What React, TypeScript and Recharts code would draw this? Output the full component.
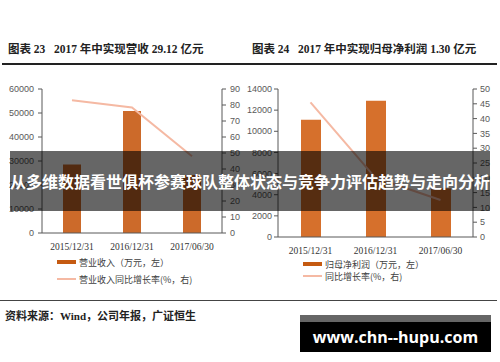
import React from 'react';
import { ComposedChart, Bar, Line, XAxis, YAxis } from 'recharts';

const dates = ['2015/12/31', '2016/12/31', '2017/06/30'];
const revenue = [28500, 50800, 24200];
const revenueGrowth = [83, 78.5, 48];
const profit = [11100, 12900, 4600];
const profitGrowth = [45.5, 20, 12.5];

const revenueTicks = [0, 10000, 20000, 30000, 40000, 50000, 60000];
const revenueGrowthTicks = [0, 10, 20, 30, 40, 50, 60, 70, 80, 90];
const profitTicks = [0, 2000, 4000, 6000, 8000, 10000, 12000, 14000];
const profitGrowthTicks = [0, 5, 10, 15, 20, 25, 30, 35, 40, 45, 50];

const BAR = '#cc6a2a';
const LINE = '#f5b9a3';
const AXIS = '#595959';
const SERIF = '"Liberation Serif", "Noto Sans CJK SC", serif';
const CJK = '"Noto Sans CJK SC", sans-serif';

const tickStyle = { fill: AXIS, fontSize: 9, fontFamily: '"Liberation Sans", sans-serif' };
const xTickStyle = { fill: '#333', fontSize: 9.5, fontFamily: SERIF };

const leftData = dates.map((d, i) => ({ date: d, value: revenue[i], growth: revenueGrowth[i] }));
const rightData = dates.map((d, i) => ({ date: d, value: profit[i], growth: profitGrowth[i] }));

const abs = (style: React.CSSProperties): React.CSSProperties => ({ position: 'absolute', ...style });

const LegendRow = ({ x, y, kind, label }: { x: number; y: number; kind: 'bar' | 'line'; label: string }) => (
  <div style={abs({ left: x, top: y - 7, height: 14, display: 'flex', alignItems: 'center', whiteSpace: 'nowrap' })}>
    <div style={{ width: 19, height: kind === 'bar' ? 4 : 2, background: kind === 'bar' ? '#c55a11' : LINE, marginRight: 3 }} />
    <span style={{ fontSize: 9, color: '#404040', fontFamily: CJK }}>{label}</span>
  </div>
);

export default function App() {
  return (
    <div style={abs({ left: 0, top: 0, width: 500, height: 362, background: '#fff', overflow: 'hidden' })}>
      <div style={abs({ left: 8, top: 40, fontSize: 11.5, fontWeight: 'bold', fontFamily: SERIF, color: '#222', whiteSpace: 'nowrap' })}>
        图表 23&nbsp;&nbsp;&nbsp;2017 年中实现营收 29.12 亿元
      </div>
      <div style={abs({ left: 252, top: 40, fontSize: 11.5, fontWeight: 'bold', fontFamily: SERIF, color: '#222', whiteSpace: 'nowrap' })}>
        图表 24&nbsp;&nbsp;&nbsp;2017 年中实现归母净利润 1.30 亿元
      </div>
      <div style={abs({ left: 2, top: 63, width: 495, height: 2, background: '#222' })} />

      <div style={abs({ left: 0, top: 80 })}>
        <ComposedChart width={250} height={190} data={leftData} margin={{ top: 9, right: 0, left: 0, bottom: 17 }}>
          <XAxis dataKey="date" tickLine={false} stroke={AXIS} tick={xTickStyle} height={20} tickMargin={4} />
          <YAxis yAxisId="l" width={42} domain={[0, 60000]} ticks={revenueTicks} stroke={AXIS} tick={tickStyle} tickSize={4} tickMargin={4} interval={0} />
          <YAxis yAxisId="r" orientation="right" width={28} domain={[0, 90]} ticks={revenueGrowthTicks} stroke={AXIS} tick={tickStyle} tickSize={4} tickMargin={4} interval={0} />
          <Bar yAxisId="l" dataKey="value" fill={BAR} barSize={18} isAnimationActive={false} />
          <Line yAxisId="r" dataKey="growth" type="linear" stroke={LINE} strokeWidth={2} dot={false} isAnimationActive={false} />
        </ComposedChart>
      </div>

      <div style={abs({ left: 240, top: 80 })}>
        <ComposedChart width={260} height={190} data={rightData} margin={{ top: 9, right: 0, left: 0, bottom: 13 }}>
          <XAxis dataKey="date" tickLine={false} stroke={AXIS} tick={xTickStyle} height={20} tickMargin={4} />
          <YAxis yAxisId="l" width={38} domain={[0, 14000]} ticks={profitTicks} stroke={AXIS} tick={tickStyle} tickSize={4} tickMargin={2} interval={0} />
          <YAxis yAxisId="r" orientation="right" width={27} domain={[0, 50]} ticks={profitGrowthTicks} stroke={AXIS} tick={tickStyle} tickSize={4} tickMargin={3} interval={0} />
          <Bar yAxisId="l" dataKey="value" fill="#d6702c" barSize={20} isAnimationActive={false} />
          <Line yAxisId="r" dataKey="growth" type="linear" stroke={LINE} strokeWidth={2} dot={false} isAnimationActive={false} />
        </ComposedChart>
      </div>

      <LegendRow x={57} y={262} kind="bar" label="营业收入（万元，左）" />
      <LegendRow x={57} y={279} kind="line" label="营业收入同比增长率(%，右)" />
      <LegendRow x={303} y={264} kind="bar" label="归母净利润（万元，左）" />
      <LegendRow x={303} y={276} kind="line" label="同比增长率(%，右)" />

      <div style={abs({ left: 10, top: 151, width: 480, height: 60, background: 'rgba(0,0,0,0.6)', display: 'flex', alignItems: 'center', justifyContent: 'center' })}>
        <span style={{ color: '#fff', fontSize: 16, fontWeight: 'bold', fontFamily: CJK, whiteSpace: 'nowrap' }}>
          从多维数据看世俱杯参赛球队整体状态与竞争力评估趋势与走向分析
        </span>
      </div>

      <div style={abs({ left: 0, top: 300, width: 497, height: 1, background: '#444' })} />
      <div style={abs({ left: 5, top: 307, fontSize: 11, fontWeight: 'bold', fontFamily: SERIF, color: '#222', whiteSpace: 'nowrap' })}>
        资料来源：Wind，公司年报，广证恒生
      </div>

      <div style={abs({ left: 300, top: 315, width: 191, height: 7, background: '#666' })} />
      <div style={abs({ left: 300, top: 322, width: 191, height: 30, background: '#000', display: 'flex', alignItems: 'center', justifyContent: 'center' })}>
        <span style={{ color: '#fff', fontSize: 16, fontWeight: 'bold', fontFamily: '"Open Sans", sans-serif', whiteSpace: 'nowrap' }}>
          www.chn--hupu.com
        </span>
      </div>
    </div>
  );
}
